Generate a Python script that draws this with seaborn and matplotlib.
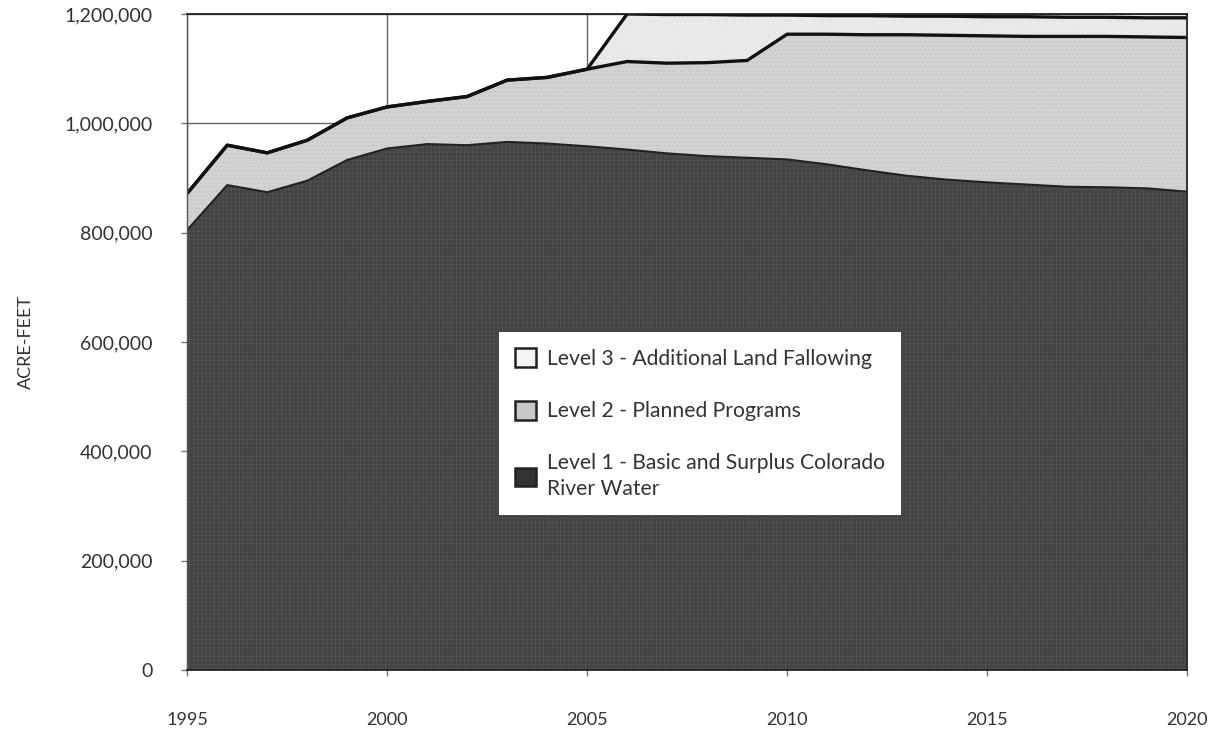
import matplotlib
matplotlib.use("Agg")
import matplotlib.pyplot as plt
from matplotlib.patches import Patch
from matplotlib.ticker import FuncFormatter
import numpy as np
import pandas as pd
import seaborn as sns

# Water supply by level, acre-feet
years = list(range(1995, 2021))
level1 = [805000, 887000, 874000, 895000, 933000, 954000, 962000, 960000, 966000,
          963000, 958000, 952000, 945000, 940000, 937000, 934000, 925000, 914000,
          904000, 897000, 892000, 888000, 884000, 883000, 881000, 875000]
level2 = [67000, 73000, 72000, 74000, 77000, 76000, 78000, 89000, 113000, 121000,
          141000, 161000, 165000, 171000, 178000, 229000, 238000, 248000, 258000,
          264000, 268000, 271000, 275000, 276000, 277000, 282000]
level3 = [0, 0, 0, 0, 0, 0, 0, 0, 0, 0, 0, 87000, 89000, 88000, 83000, 35000,
          34000, 35000, 34000, 35000, 35000, 36000, 35000, 35000, 35000, 36000]

labels = ["Level 1 - Basic and Surplus Colorado\nRiver Water",
          "Level 2 - Planned Programs",
          "Level 3 - Additional Land Fallowing"]
y_ticks = [0, 200000, 400000, 600000, 800000, 1000000, 1200000]
x_ticks = [1995, 2000, 2005, 2010, 2015, 2020]

df = pd.DataFrame({"year": years, "level1": level1, "level2": level2, "level3": level3})
df["top1"] = df["level1"]
df["top2"] = df["top1"] + df["level2"]
df["top3"] = df["top2"] + df["level3"]

sns.set_theme(style="white")
plt.rcParams["font.family"] = ["Lato", "DejaVu Sans"]
plt.rcParams["hatch.linewidth"] = 0.35
text_color = "#333333"

fig = plt.figure(figsize=(12.08, 7.36), dpi=100)
ax = fig.add_axes([0.155, 0.0897, 0.8276, 0.8913])

fill1, fill2, fill3 = "#434343", "#d2d2d2", "#eaeaea"

# stacked bands, drawn from the top down so each sits on the one below
ax.fill_between(df["year"], df["top2"], df["top3"], facecolor=fill3,
                edgecolor="#dcdcdc", hatch="....", lw=0, zorder=2)
ax.fill_between(df["year"], df["top1"], df["top2"], facecolor=fill2,
                edgecolor="#bdbdbd", hatch="....", lw=0, zorder=2)
ax.fill_between(df["year"], 0, df["top1"], facecolor=fill1,
                edgecolor="#575757", hatch="++++", lw=0, zorder=2)

sns.lineplot(data=df, x="year", y="top1", ax=ax, color="#222222", lw=1.5, zorder=3)
sns.lineplot(data=df, x="year", y="top2", ax=ax, color="#111111", lw=2.4, zorder=4)
sns.lineplot(data=df, x="year", y="top3", ax=ax, color="#111111", lw=2.4, zorder=4)

ax.set_xlim(1995, 2020)
ax.set_ylim(0, 1200000)
ax.set_xticks(x_ticks)
ax.set_yticks(y_ticks)
ax.yaxis.set_major_formatter(FuncFormatter(lambda v, p: f"{int(v):,}"))
ax.grid(True, color="#666666", lw=1.0, zorder=1)
ax.set_axisbelow(True)

for side in ["left", "right", "top", "bottom"]:
    ax.spines[side].set_color("#222222")
    ax.spines[side].set_linewidth(1.3)
    ax.spines[side].set_zorder(5)
ax.spines["left"].set_color("#555555")
ax.spines["left"].set_linewidth(1.0)

ax.tick_params(axis="both", which="major", length=4, width=1, color="#777777",
               labelcolor=text_color, direction="out")
ax.tick_params(axis="y", pad=21, left=True, labelsize=14)
ax.tick_params(axis="x", pad=26, bottom=True, labelsize=13)

ax.set_xlabel("")
ax.set_ylabel("ACRE-FEET", fontsize=13, color=text_color, labelpad=22)

handles = [
    Patch(facecolor="#f4f4f4", edgecolor="#222222", lw=1.8, label=labels[2]),
    Patch(facecolor="#c8c8c8", edgecolor="#222222", lw=1.8, label=labels[1]),
    Patch(facecolor="#333333", edgecolor="#222222", lw=1.8, label=labels[0]),
]
leg = ax.legend(handles=handles, loc="upper left", bbox_to_anchor=(0.311, 0.516),
                borderaxespad=0, frameon=True, fancybox=False, fontsize=15.2,
                handlelength=1.0, handleheight=1.0, handletextpad=0.5,
                labelspacing=1.5, borderpad=0.8, labelcolor=text_color)
for txt in leg.get_texts():
    txt.set_linespacing(1.4)
leg.get_frame().set_edgecolor("#444444")
leg.get_frame().set_linewidth(1.4)
leg.get_frame().set_facecolor("white")
leg.get_frame().set_alpha(1)
leg.set_zorder(6)

fig.savefig("out.png", dpi=100, facecolor="white")
